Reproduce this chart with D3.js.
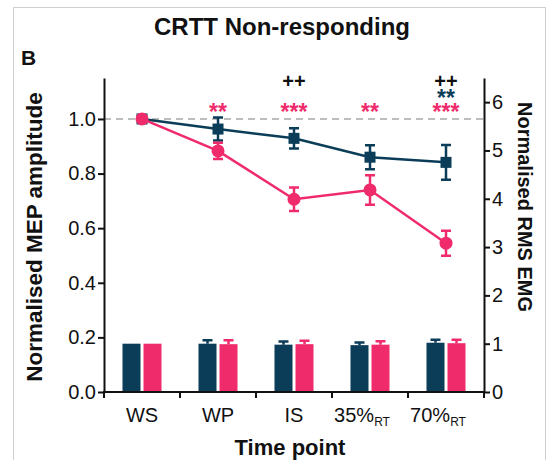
<!DOCTYPE html>
<html>
<head>
<meta charset="utf-8">
<script src="https://cdn.jsdelivr.net/npm/d3@7"></script>
<style>
  body { margin: 0; background: #fff; }
  svg { font-family: "Liberation Sans", Arial, sans-serif; }
</style>
</head>
<body>
<div id="chart"></div>
<script>
const width = 548;
const height = 460;

// data
const timePoints = ['WS', 'WP', 'IS', '35%', '70%'];
const subLabels = ['', '', '', 'RT', 'RT'];
const mepDark = [1.0, 0.963, 0.929, 0.860, 0.841];
const mepDarkErr = [0, 0.042, 0.037, 0.044, 0.064];
const mepPink = [1.0, 0.883, 0.706, 0.740, 0.545];
const mepPinkErr = [0, 0.03, 0.043, 0.054, 0.046];
const emgDark = [1.0, 1.0, 0.98, 0.97, 1.02];
const emgDarkErr = [0, 0.07, 0.065, 0.055, 0.06];
const emgPink = [1.0, 0.99, 0.99, 0.98, 1.01];
const emgPinkErr = [0, 0.08, 0.07, 0.07, 0.07];
const leftTicks = [0, 0.2, 0.4, 0.6, 0.8, 1.0];
const rightTicks = [0, 1, 2, 3, 4, 5, 6];
// significance marks: category, text, series, row (0 = lowest)
const marks = [
  ['WP', '**', 'pink', 0],
  ['IS', '***', 'pink', 0],
  ['35%', '**', 'pink', 0],
  ['70%', '***', 'pink', 0],
  ['70%', '**', 'dark', 1],
  ['IS', '++', 'black', 2],
  ['70%', '++', 'black', 2]
];

const dark = '#0b3d58';
const pink = '#ef2b6c';
const colors = { dark: dark, pink: pink, black: '#111' };

const svg = d3.select('#chart')
  .append('svg')
  .attr('width', width)
  .attr('height', height);

svg.append('rect')
  .attr('x', 13.5).attr('y', 7.5)
  .attr('width', 532).attr('height', 470)
  .attr('fill', 'none')
  .attr('stroke', '#cfcfcf');

const x = d3.scaleBand().domain(timePoints).range([104, 484]).padding(0);
const yL = d3.scaleLinear().domain([0, 1.15]).range([392, 78]);
const yR = d3.scaleLinear().domain([0, 6.5]).range([392, 78]);
const sub = d3.scaleBand().domain(['dark', 'pink']).range([0, x.bandwidth()])
  .paddingInner(0.143).paddingOuter(0.88);

// bars (right axis)
const barData = [];
timePoints.forEach((t, i) => {
  barData.push({ t: t, s: 'dark', v: emgDark[i], e: emgDarkErr[i] });
  barData.push({ t: t, s: 'pink', v: emgPink[i], e: emgPinkErr[i] });
});

const bars = svg.append('g');
bars.selectAll('rect')
  .data(barData)
  .enter()
  .append('rect')
  .attr('x', d => x(d.t) + sub(d.s))
  .attr('y', d => yR(d.v))
  .attr('width', sub.bandwidth())
  .attr('height', d => yR(0) - yR(d.v))
  .attr('fill', d => colors[d.s]);

const barErr = barData.filter(d => d.e > 0);
bars.selectAll('.eb')
  .data(barErr)
  .enter()
  .append('path')
  .attr('d', d => {
    const cx = x(d.t) + sub(d.s) + sub.bandwidth() / 2;
    const y0 = yR(d.v), y1 = yR(d.v + d.e);
    return `M${cx},${y0}V${y1}M${cx - 5},${y1}H${cx + 5}`;
  })
  .attr('stroke', d => colors[d.s])
  .attr('stroke-width', 2.5)
  .attr('fill', 'none');

// dashed reference line
svg.append('line')
  .attr('x1', 104).attr('x2', 484)
  .attr('y1', yL(1)).attr('y2', yL(1))
  .attr('stroke', '#bdbdbd')
  .attr('stroke-width', 2)
  .attr('stroke-dasharray', '7,5');

// lines (left axis)
function drawSeries(vals, errs, col, marker) {
  const g = svg.append('g');
  const pts = timePoints.map((t, i) => ({ t: t, v: vals[i], e: errs[i] }));
  const line = d3.line().x(d => x(d.t) + x.bandwidth() / 2).y(d => yL(d.v));
  g.append('path')
    .datum(pts)
    .attr('d', line)
    .attr('fill', 'none')
    .attr('stroke', col)
    .attr('stroke-width', 2.5);
  g.selectAll('.err')
    .data(pts.filter(d => d.e > 0))
    .enter()
    .append('path')
    .attr('d', d => {
      const cx = x(d.t) + x.bandwidth() / 2;
      const a = yL(d.v + d.e), b = yL(d.v - d.e);
      return `M${cx},${a}V${b}M${cx - 5},${a}H${cx + 5}M${cx - 5},${b}H${cx + 5}`;
    })
    .attr('stroke', col)
    .attr('stroke-width', 2.5)
    .attr('fill', 'none');
  if (marker === 'square') {
    g.selectAll('rect')
      .data(pts)
      .enter()
      .append('rect')
      .attr('x', d => x(d.t) + x.bandwidth() / 2 - 5.5)
      .attr('y', d => yL(d.v) - 5.5)
      .attr('width', 11).attr('height', 11)
      .attr('fill', col);
  } else {
    g.selectAll('circle')
      .data(pts)
      .enter()
      .append('circle')
      .attr('cx', d => x(d.t) + x.bandwidth() / 2)
      .attr('cy', d => yL(d.v))
      .attr('r', 6.5)
      .attr('fill', col);
  }
}
drawSeries(mepDark, mepDarkErr, dark, 'square');
drawSeries(mepPink, mepPinkErr, pink, 'circle');

// axes
const leftAxis = d3.axisLeft(yL).tickValues(leftTicks).tickFormat(d3.format('.1f')).tickSize(6).tickSizeOuter(0);
const gl = svg.append('g').attr('transform', 'translate(104,0)').call(leftAxis);
const rightAxis = d3.axisRight(yR).tickValues(rightTicks).tickFormat(d3.format('d')).tickSize(6).tickSizeOuter(0);
const gr = svg.append('g').attr('transform', 'translate(484,0)').call(rightAxis);
[gl, gr].forEach(g => {
  g.select('.domain').attr('stroke', '#111').attr('stroke-width', 2);
  g.selectAll('.tick line').attr('stroke', '#111').attr('stroke-width', 2);
  g.selectAll('.tick text').attr('font-size', 20).attr('fill', '#111')
    .attr('font-family', '"Liberation Sans", Arial, sans-serif');
});
gl.selectAll('.tick text').attr('x', -8);
gr.selectAll('.tick text').attr('x', 8);

// x axis: boundary ticks, centred labels
const gx = svg.append('g');
gx.append('line')
  .attr('x1', 103).attr('x2', 485)
  .attr('y1', yL(0)).attr('y2', yL(0))
  .attr('stroke', '#111').attr('stroke-width', 2);
const bounds = timePoints.map(t => x(t)).concat([x.range()[1]]);
gx.selectAll('.xt')
  .data(bounds)
  .enter()
  .append('line')
  .attr('x1', d => d).attr('x2', d => d)
  .attr('y1', yL(0)).attr('y2', yL(0) + 6)
  .attr('stroke', '#111').attr('stroke-width', 2);
const xl = gx.selectAll('.xl')
  .data(timePoints)
  .enter()
  .append('text')
  .attr('x', (d, i) => x(d) + x.bandwidth() / 2 + (subLabels[i] ? -8 : 0))
  .attr('y', 422)
  .attr('text-anchor', 'middle')
  .attr('font-size', 20)
  .attr('fill', '#111');
xl.append('tspan').text(d => d);
xl.filter((d, i) => subLabels[i])
  .append('tspan')
  .attr('font-size', 12)
  .attr('dy', 4)
  .text((d, i) => 'RT');

// significance marks
const rowY = [120, 106, 88];
svg.selectAll('.mark')
  .data(marks)
  .enter()
  .append('text')
  .attr('x', d => x(d[0]) + x.bandwidth() / 2)
  .attr('y', d => rowY[d[3]])
  .attr('text-anchor', 'middle')
  .attr('font-size', d => d[2] === 'black' ? 20 : 23)
  .attr('font-weight', 'bold')
  .attr('fill', d => colors[d[2]])
  .text(d => d[1]);

// titles
svg.append('text')
  .attr('x', 282).attr('y', 35)
  .attr('text-anchor', 'middle')
  .attr('font-size', 24).attr('font-weight', 'bold')
  .attr('fill', '#111')
  .text('CRTT Non-responding');
svg.append('text')
  .attr('x', 21).attr('y', 65)
  .attr('font-size', 21).attr('font-weight', 'bold')
  .attr('fill', '#111')
  .text('B');
svg.append('text')
  .attr('transform', 'translate(42,237) rotate(-90)')
  .attr('text-anchor', 'middle')
  .attr('font-size', 22.5).attr('font-weight', 'bold')
  .attr('fill', '#111')
  .text('Normalised MEP amplitude');
svg.append('text')
  .attr('transform', 'translate(518,207) rotate(90)')
  .attr('text-anchor', 'middle')
  .attr('font-size', 20).attr('font-weight', 'bold')
  .attr('fill', '#111')
  .text('Normalised RMS EMG');
svg.append('text')
  .attr('x', 290).attr('y', 455)
  .attr('text-anchor', 'middle')
  .attr('font-size', 22).attr('font-weight', 'bold')
  .attr('fill', '#111')
  .text('Time point');
</script>
</body>
</html>
